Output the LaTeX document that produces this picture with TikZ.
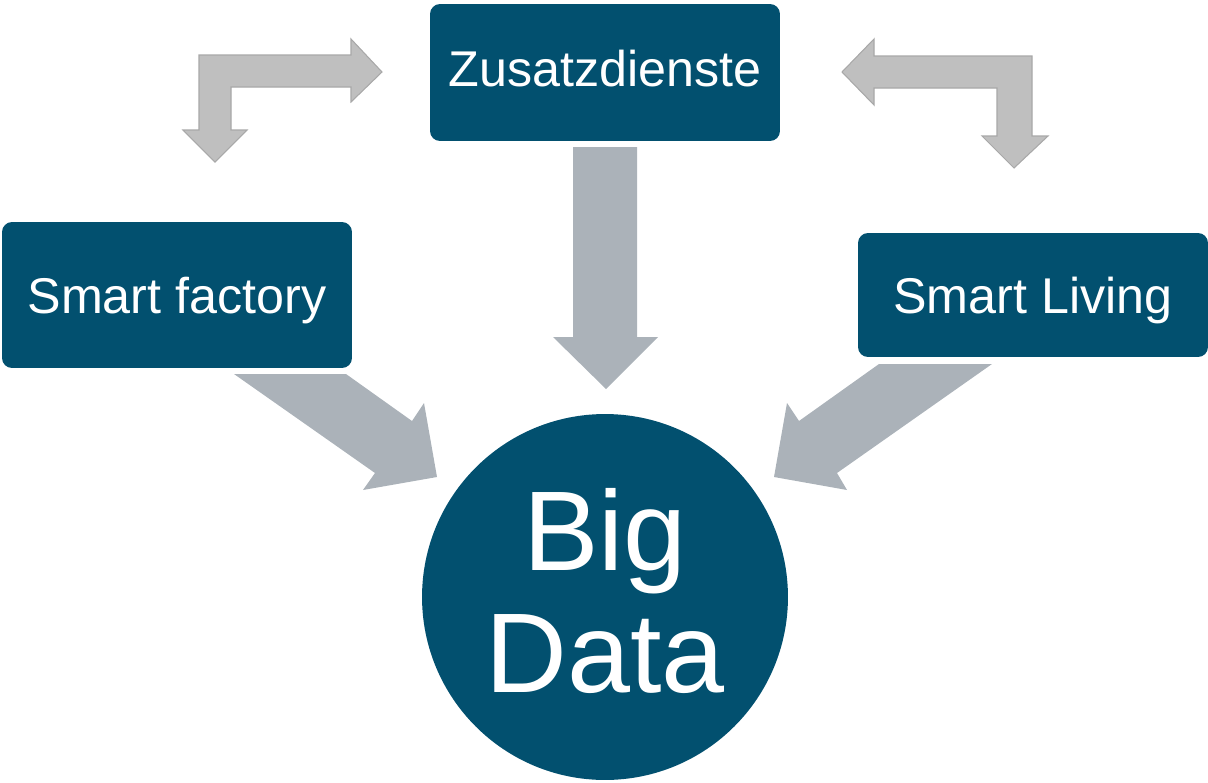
\documentclass[tikz,border=0pt]{standalone}
\usepackage{fontspec}
\setmainfont{Liberation Sans}
\definecolor{teal}{HTML}{02506F}
\definecolor{blockgray}{HTML}{ABB2B9}
\definecolor{bentgray}{HTML}{BFBFBF}
\definecolor{bentline}{HTML}{A8A8A8}
\begin{document}
\begin{tikzpicture}[x=0.02cm, y=-0.02cm,
  box/.style={fill=teal, rounded corners=0.2cm, minimum width=7cm, inner sep=0pt,
    text=white, font=\fontsize{28.6}{34}\selectfont, text height=20.5pt, text depth=0pt},
  blockarrow/.style={fill=blockgray, draw=none},
  bentarrow/.style={fill=bentgray, draw=bentline, line width=0.6pt, line join=miter}]
\useasboundingbox (0,0) rectangle (1208,782);

% nodes
\node[box, minimum height=2.74cm, text depth=4.5pt] (zus) at (605,72.5) {Zusatzdienste};
\node[box, minimum height=2.92cm] (sf) at (177,295) {Smart factory};
\node[box, minimum height=2.48cm] (sl) at (1033,295) {Smart Living};
\node[circle, fill=teal, minimum size=7.32cm, inner sep=0pt] (bd) at (605,597) {};
\node[text=white, align=center, font=\fontsize{64.5}{69.7}\selectfont] (bdtext) at (605,591) {Big\\Data};

% block arrows into Big Data
\path[blockarrow] (573,147) -- (637,147) -- (637,337) -- (658,337) -- (606,389)
  -- (553,337) -- (573,337) -- cycle;
\path[blockarrow] (234,374) -- (346,374) -- (412,421) -- (424,403) -- (437,477)
  -- (363,490) -- (375,473) -- cycle;
\path[blockarrow] (879,364) -- (992,364) -- (837,473) -- (847,490) -- (774,477)
  -- (787,403) -- (799,421) -- cycle;

% bent arrows
\draw[bentarrow] (199,55) -- (351,55) -- (351,39) -- (382,72) -- (351,102) -- (351,87)
  -- (231,87) -- (231,130) -- (247,130) -- (215,162) -- (183,130) -- (199,130) -- cycle;
\draw[bentarrow] (842,72) -- (874,39) -- (874,56) -- (1032,56) -- (1032,136) -- (1048,136)
  -- (1014,168) -- (982,136) -- (997,136) -- (997,88) -- (874,88) -- (874,105) -- cycle;
\end{tikzpicture}
\end{document}
